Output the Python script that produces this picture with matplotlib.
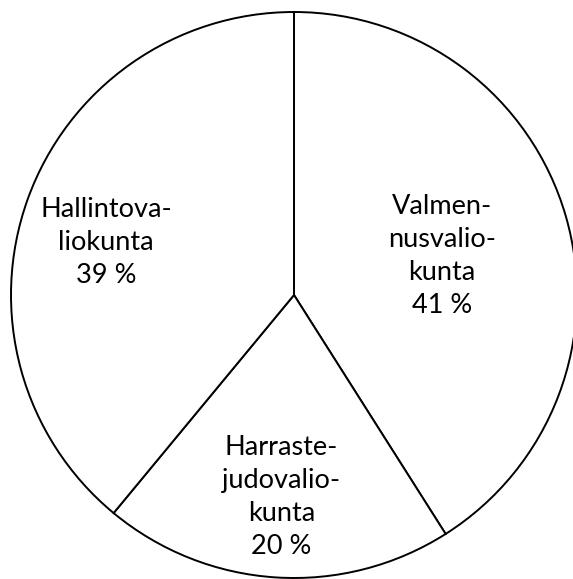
import numpy as np
import matplotlib.pyplot as plt

# data
labels = ['Valmen-\nnusvalio-\nkunta', 'Harraste-\njudovalio-\nkunta', 'Hallintova-\nliokunta']
values = [41, 20, 39]

# label placement: distance from centre (fraction of radius) and angle tweak (deg)
label_r = [0.54, 0.715, 0.69]
label_dang = [-1.4, 0.0, 4.3]

fig = plt.figure(figsize=(5.73, 5.79), dpi=100)
cx, cy, r = 294 / 573, 1 - 295 / 579, 283
ax = fig.add_axes([cx - r / 573, cy - r / 579, 2 * r / 573, 2 * r / 579])

wedges, _ = ax.pie(values, startangle=90, counterclock=False,
                   colors=['white'] * len(values),
                   wedgeprops={'edgecolor': 'black', 'linewidth': 1.4})

for w, lab, v, d, da in zip(wedges, labels, values, label_r, label_dang):
    ang = np.deg2rad((w.theta1 + w.theta2) / 2 + da)
    ax.text(d * np.cos(ang), d * np.sin(ang), f'{lab}\n{v} %',
            ha='center', va='center', fontsize=19.5, family='Lato',
            linespacing=1.4)

ax.set_xlim(-1, 1)
ax.set_ylim(-1, 1)
ax.set_aspect('auto')
ax.axis('off')

fig.savefig('out.png', dpi=100)
